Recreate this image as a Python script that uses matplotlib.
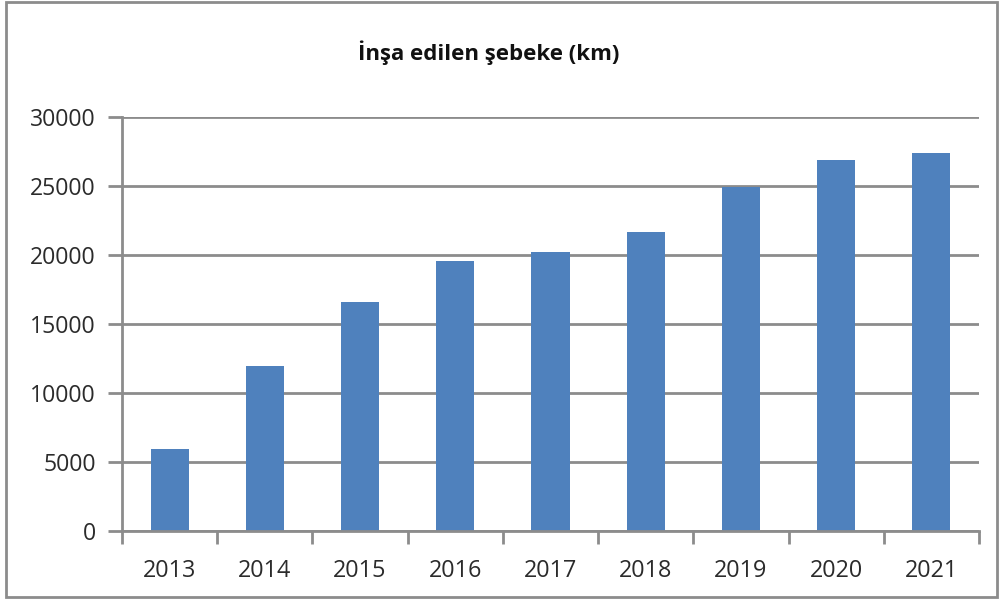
import matplotlib
matplotlib.use("Agg")
import matplotlib.pyplot as plt
from matplotlib.patches import Rectangle
import numpy as np

years = ["2013", "2014", "2015", "2016", "2017", "2018", "2019", "2020", "2021"]
values = [5950, 11950, 16600, 19600, 20250, 21700, 24900, 26900, 27400]
yticks = [0, 5000, 10000, 15000, 20000, 25000, 30000]

plt.rcParams['font.family'] = ['Open Sans', 'DejaVu Sans']

fig = plt.figure(figsize=(10, 6.01), dpi=100)
ax = fig.add_axes([0.122, 0.1165, 0.857, 0.6888])

x = np.arange(len(years))
ax.bar(x, values, width=0.4, color="#4F81BD", zorder=3)

grid_c = "#8C8C8C"
lab_c = "#2B2B2B"
ax.set_xlim(-0.5, len(years) - 0.5)
ax.set_ylim(0, 30000)
ax.set_yticks(yticks)
ax.set_yticklabels([str(v) for v in yticks])
ax.yaxis.grid(True, color=grid_c, linewidth=2, zorder=0)
ax.set_xticks(x)
ax.set_xticklabels(years)
ax.set_xticks(np.arange(len(years) + 1) - 0.5, minor=True)
ax.tick_params(axis='x', which='major', length=0, pad=20, labelsize=16.8, labelcolor=lab_c)
ax.tick_params(axis='x', which='minor', length=9, width=2, color=grid_c, direction='out')
ax.tick_params(axis='y', length=10, width=2, color=grid_c, pad=9, labelsize=16.6, labelcolor=lab_c)

for s in ['top', 'right']:
    ax.spines[s].set_visible(False)
for s in ['left', 'bottom']:
    ax.spines[s].set_color(grid_c)
    ax.spines[s].set_linewidth(2)
ax.spines['left'].set_zorder(4)
ax.spines['bottom'].set_zorder(4)

fig.text(0.489, 0.912, "İnşa edilen şebeke (km)", ha='center', va='center',
         fontsize=16, fontweight='bold', color="#111111")

fig.patches.append(Rectangle((0.006, 0.006), 0.991, 0.991, transform=fig.transFigure,
                             fill=False, edgecolor="#8C8C8C", linewidth=2))

fig.savefig("out.png", dpi=100)
